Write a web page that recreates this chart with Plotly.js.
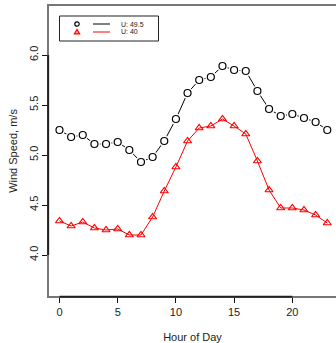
<!DOCTYPE html>
<html>
<head>
<meta charset="utf-8">
<script src="https://cdn.plot.ly/plotly-3.0.1.min.js"></script>
<style>html,body{margin:0;padding:0;background:#fff;}#chart{width:336px;height:343px;}</style>
</head>
<body>
<div id="chart"></div>
<script>
// Data
var hours = [0,1,2,3,4,5,6,7,8,9,10,11,12,13,14,15,16,17,18,19,20,21,22,23];
var speedU495 = [5.25,5.18,5.20,5.11,5.11,5.13,5.05,4.93,4.98,5.14,5.36,5.62,5.75,5.78,5.89,5.85,5.84,5.64,5.46,5.39,5.41,5.37,5.33,5.25];
var speedU40 = [4.34,4.29,4.33,4.27,4.25,4.26,4.20,4.20,4.38,4.64,4.88,5.14,5.27,5.29,5.36,5.29,5.21,4.94,4.65,4.47,4.47,4.45,4.40,4.32];
var seriesNames = ["U: 49.5", "U: 40"];
var xTicks = [0,5,10,15,20];
var yTicks = [4.0,4.5,5.0,5.5,6.0];

var W = 336, H = 343;
var mL = 49, mR = 0, mT = 6, mB = 47;
var pw = W - mL - mR, ph = H - mT - mB;
function px(x){ return (x - mL) / pw; }
function py(y){ return (H - mB - y) / ph; }

var font = "Liberation Sans, Arial, sans-serif";

var traces = [
  {x: hours, y: speedU40, type: 'scatter', mode: 'lines+markers', name: seriesNames[1],
   line: {color: '#ff0000', width: 1},
   marker: {symbol: 'triangle-up-open', size: 7, color: '#ff0000', line: {width: 1.2, color: '#ff0000'}},
   showlegend: false, hoverinfo: 'skip'},
  {x: hours, y: speedU495, type: 'scatter', mode: 'lines', name: seriesNames[0],
   line: {color: '#000000', width: 1}, showlegend: false, hoverinfo: 'skip'},
  {x: hours, y: speedU495, type: 'scatter', mode: 'markers',
   marker: {symbol: 'circle', size: 11, color: '#ffffff', line: {width: 0}},
   showlegend: false, hoverinfo: 'skip'},
  {x: hours, y: speedU495, type: 'scatter', mode: 'markers', name: seriesNames[0],
   marker: {symbol: 'circle-open', size: 7, color: '#000000', line: {width: 1.2, color: '#000000'}},
   showlegend: false, hoverinfo: 'skip'}
];

var shapes = [
  // darker axis lines spanning the tick range (R style)
  {type: 'line', xref: 'x', yref: 'paper', x0: xTicks[0], x1: xTicks[xTicks.length-1], y0: -0.003, y1: -0.003,
   line: {color: '#222', width: 2}},
  {type: 'line', xref: 'paper', yref: 'y', x0: -0.003, x1: -0.003, y0: yTicks[0], y1: yTicks[yTicks.length-1],
   line: {color: '#222', width: 2}},
  // legend box
  {type: 'rect', xref: 'paper', yref: 'paper', x0: px(59.5), x1: px(158.5), y0: py(41), y1: py(16),
   line: {color: '#222', width: 1}, fillcolor: 'rgba(0,0,0,0)'},
  // legend lines
  {type: 'line', xref: 'paper', yref: 'paper', x0: px(93), x1: px(110), y0: py(24), y1: py(24),
   line: {color: '#000', width: 1}},
  {type: 'line', xref: 'paper', yref: 'paper', x0: px(93), x1: px(110), y0: py(32), y1: py(32),
   line: {color: '#ff0000', width: 1}},
  // legend markers
  {type: 'circle', xref: 'paper', yref: 'paper', xsizemode: 'pixel', ysizemode: 'pixel',
   xanchor: px(77), yanchor: py(24), x0: -2.2, x1: 2.2, y0: -2.2, y1: 2.2,
   line: {color: '#000', width: 1.2}},
  {type: 'path', xref: 'paper', yref: 'paper', xsizemode: 'pixel', ysizemode: 'pixel',
   xanchor: px(77), yanchor: py(32), path: 'M -2.6 -1.8 L 2.6 -1.8 L 0 2.6 Z',
   line: {color: '#ff0000', width: 1.2}, fillcolor: 'rgba(255,0,0,0.35)'}
];

var annotations = [
  {xref: 'paper', yref: 'paper', x: px(119), y: py(24), xanchor: 'left', yanchor: 'middle',
   text: seriesNames[0], showarrow: false, font: {family: font, size: 7, color: '#222'}},
  {xref: 'paper', yref: 'paper', x: px(119), y: py(32), xanchor: 'left', yanchor: 'middle',
   text: seriesNames[1], showarrow: false, font: {family: font, size: 7, color: '#222'}}
];

var layout = {
  width: W, height: H,
  margin: {l: mL, r: mR, t: mT, b: mB, pad: 0},
  paper_bgcolor: '#fff', plot_bgcolor: '#fff',
  font: {family: font, size: 11, color: '#222'},
  showlegend: false,
  xaxis: {
    range: [-0.9, 23.75], tickvals: xTicks, ticktext: xTicks.map(String),
    ticks: 'outside', ticklen: 5, tickwidth: 1, tickcolor: '#111',
    showgrid: false, zeroline: false,
    showline: true, linecolor: '#777', linewidth: 2, mirror: true,
    tickfont: {family: font, size: 11, color: '#222'},
    title: {text: 'Hour of Day', font: {family: font, size: 11, color: '#222'}, standoff: 16}
  },
  yaxis: {
    range: [3.59, 6.49], tickvals: yTicks, ticktext: yTicks.map(function(v){return v.toFixed(1);}),
    ticks: 'outside', ticklen: 5, tickwidth: 1, tickcolor: '#111', tickangle: -90,
    showgrid: false, zeroline: false,
    showline: true, linecolor: '#777', linewidth: 2, mirror: false,
    tickfont: {family: font, size: 11, color: '#222'},
    title: {text: 'Wind Speed, m/s', font: {family: font, size: 11, color: '#222'}, standoff: 8}
  },
  shapes: shapes,
  annotations: annotations
};

Plotly.newPlot('chart', traces, layout, {displayModeBar: false, staticPlot: true});
</script>
</body>
</html>
